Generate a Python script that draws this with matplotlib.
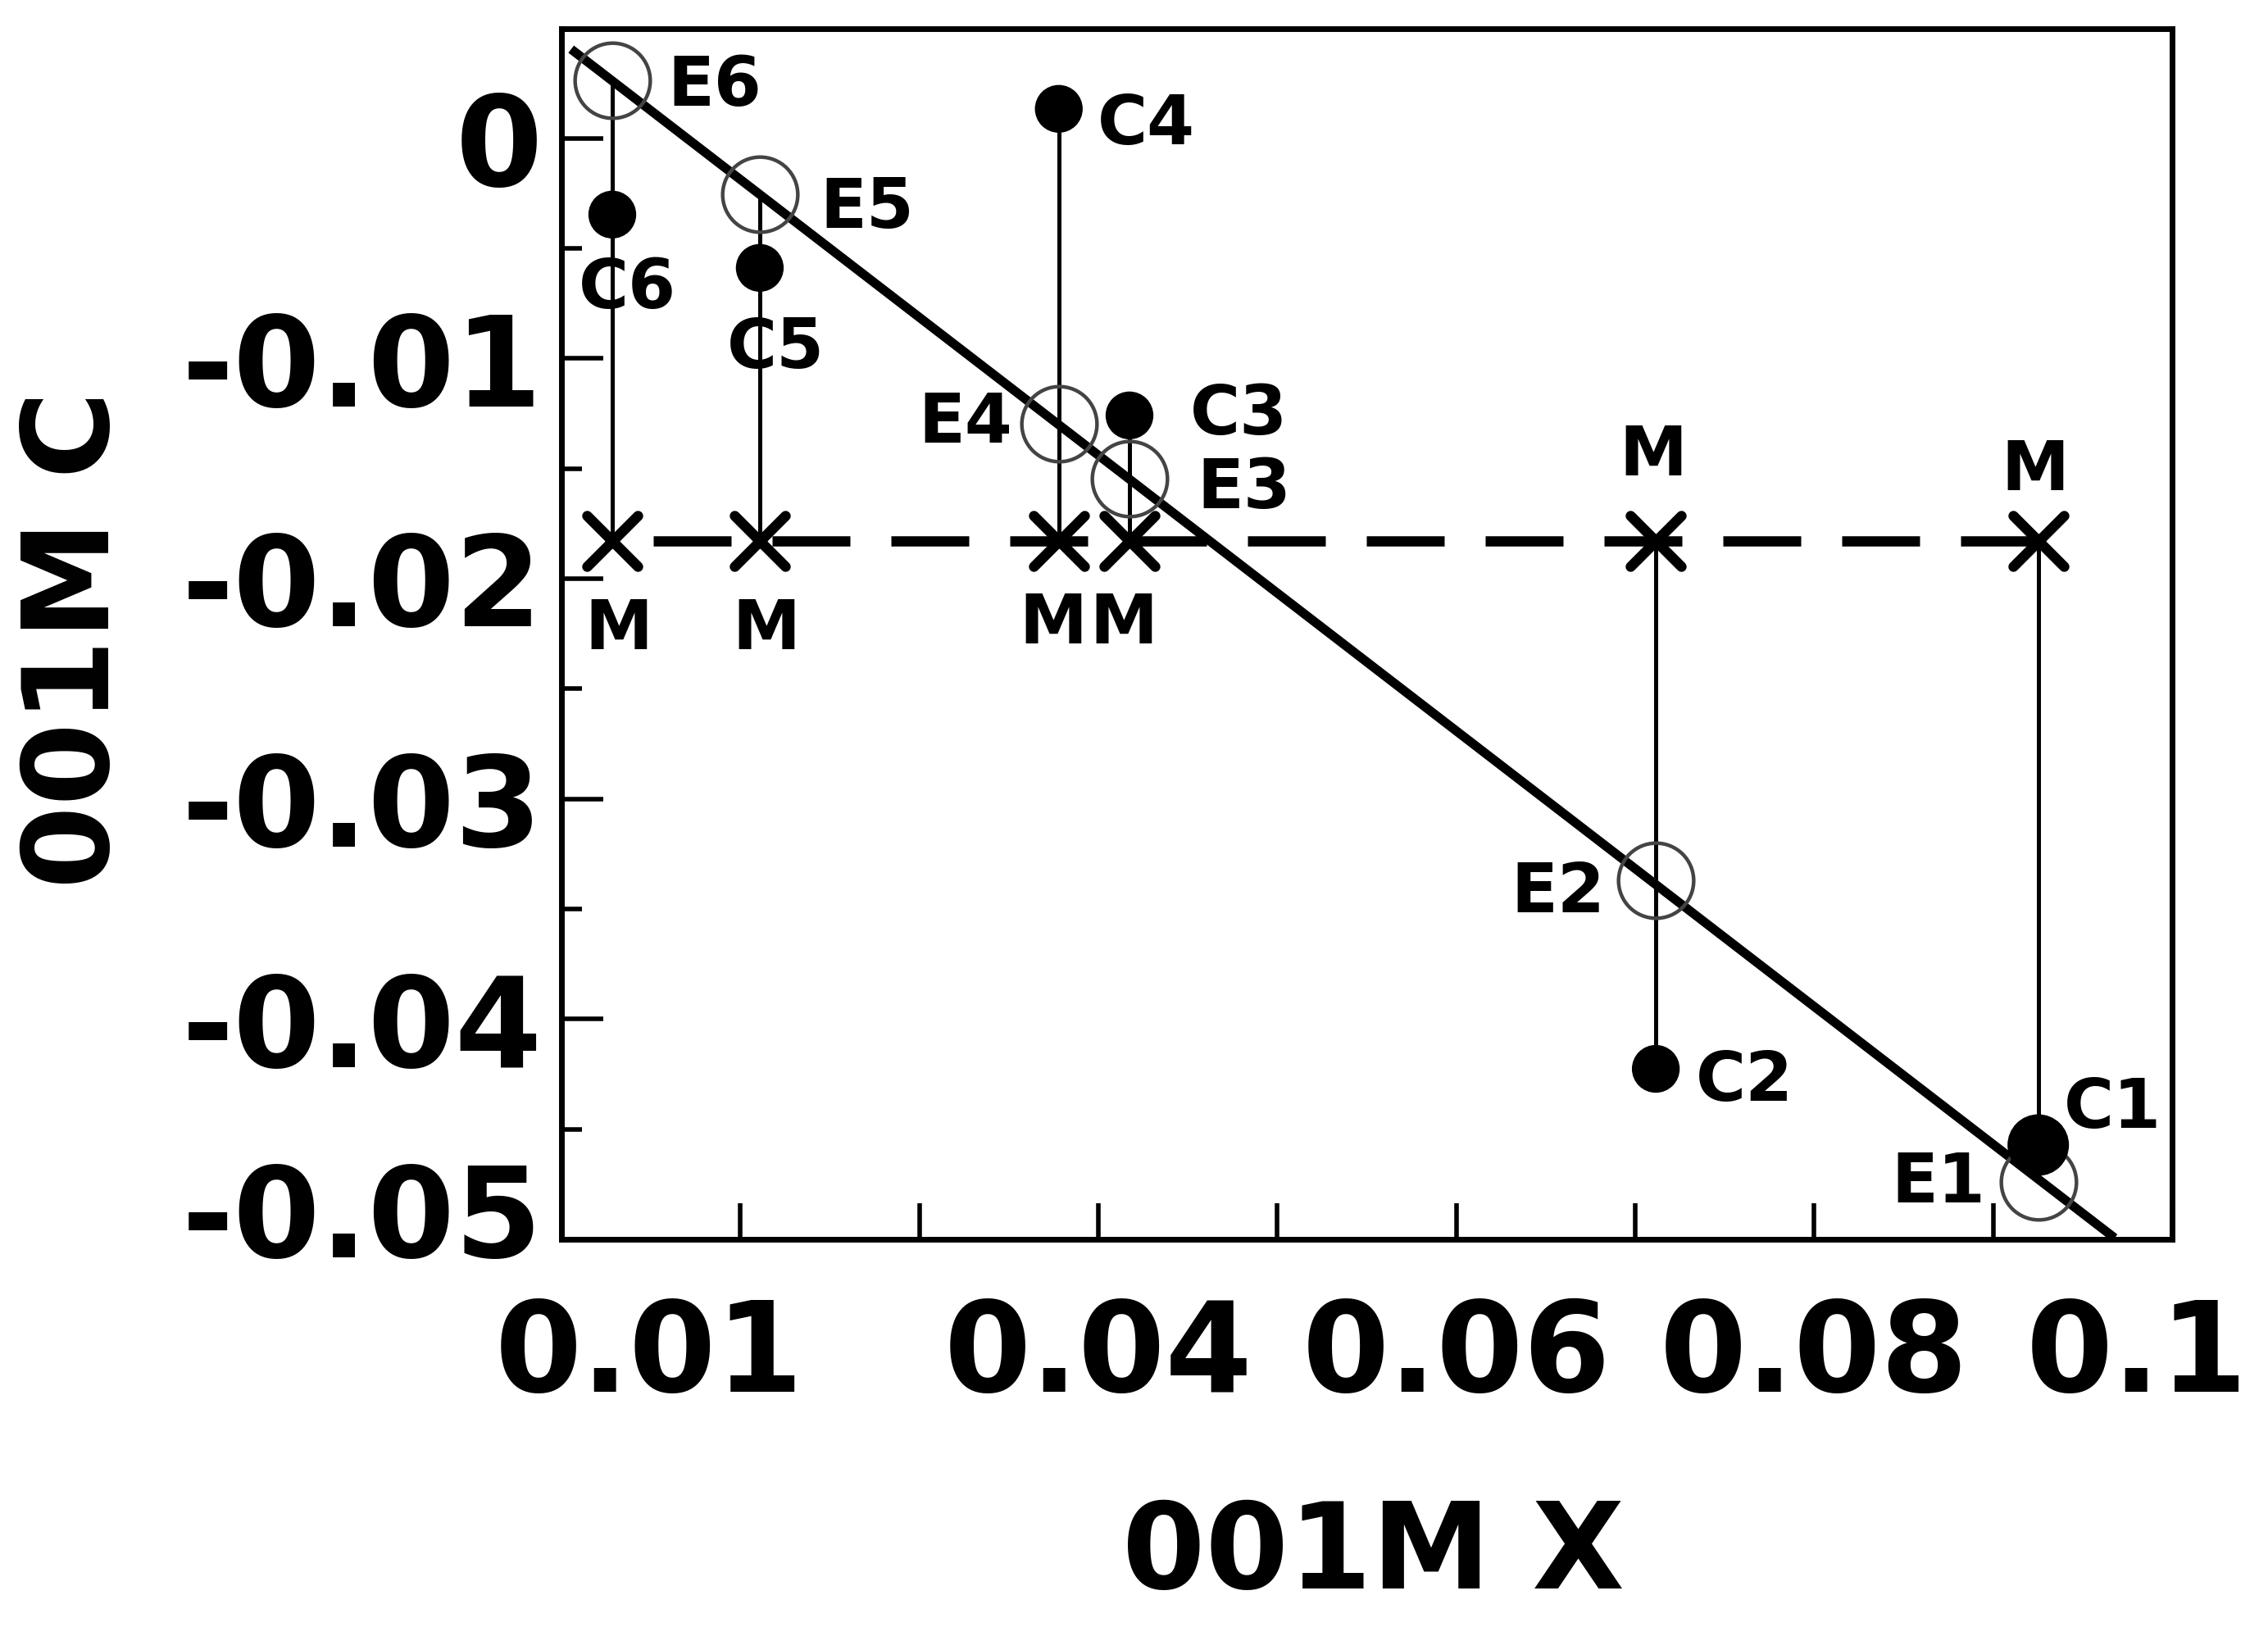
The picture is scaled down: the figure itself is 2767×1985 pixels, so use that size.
import numpy as np
import matplotlib
matplotlib.use('Agg')
import matplotlib.pyplot as plt
import matplotlib.transforms as mtransforms
from matplotlib.markers import MarkerStyle

plt.rcParams['font.family'] = ['DejaVu Sans']
plt.rcParams['font.weight'] = 'bold'

# data (points 1..6)
pt_x = [0.09252, 0.07115, 0.04174, 0.03779, 0.02108, 0.01284]
e_y = [-0.04740, -0.03371, -0.01547, -0.01296, -0.00254, 0.00262]
c_y = [-0.04572, -0.04226, -0.01259, 0.00133, -0.00589, -0.00347]
m_y = [-0.0183, -0.0183, -0.0183, -0.0183, -0.0183, -0.0183]
e_labels = ['E1', 'E2', 'E3', 'E4', 'E5', 'E6']
c_labels = ['C1', 'C2', 'C3', 'C4', 'C5', 'C6']
m_labels = ['M', 'M', 'M', 'M', 'M', 'M']

fit_x = [0.01054, 0.09679]
fit_y = [0.00404, -0.04994]

x_ticks = [0.01, 0.02, 0.03, 0.04, 0.05, 0.06, 0.07, 0.08, 0.09, 0.1]
x_ticklabels = ['0.01', '', '', '0.04', '', '0.06', '', '0.08', '', '0.1']
y_ticks = [0, -0.01, -0.02, -0.03, -0.04, -0.05]
y_ticklabels = ['0', '-0.01', '-0.02', '-0.03', '-0.04', '-0.05']
y_minor = [-0.005, -0.015, -0.025, -0.035, -0.045]

# label offsets in points (style)
e_off = [(-88, 4), (-86, -6), (101, -4), (-82, 5), (94, -8), (90, 0)]
c_off = [(65, 37), (78, -6), (96, 5), (77, -9), (14, -66), (13, -60)]
m_off = [(-3, 67), (-2, 80), (-5, -68), (-5, -68), (6, -73), (6, -73)]
c_size = [54, 42, 42, 42, 42, 42]

W, H = 2767, 1985
fig = plt.figure(figsize=(W / 100, H / 100), dpi=100)
ax = fig.add_axes([685 / W, 1 - 1512 / H, (2650 - 685) / W, (1512 - 35) / H])

# vertical connectors
lo = [min(a, b, c) for a, b, c in zip(e_y, c_y, m_y)]
hi = [max(a, b, c) for a, b, c in zip(e_y, c_y, m_y)]
ax.vlines(pt_x, lo, hi, color='k', lw=3.6, zorder=2)

# dashed M line
ax.plot(pt_x, m_y, color='k', lw=9, ls=(0, (7.6, 4.0)),
        dash_capstyle='butt', zorder=3)
ax.plot(pt_x, m_y, ls='none', marker=MarkerStyle('x', capstyle='round'),
        ms=44, mew=9, color='k', zorder=5)

# fit line
ax.plot(fit_x, fit_y, color='k', lw=8, solid_capstyle='butt', zorder=4)

# E and C markers
ax.plot(pt_x, e_y, ls='none', marker='o', ms=66, mfc='none',
        mec='#444444', mew=3.2, zorder=6)
ax.scatter(pt_x, c_y, s=[s ** 2 for s in c_size], color='k',
           linewidths=0, zorder=7)

fs = 60
for xs, ys, labs, offs in [(pt_x, e_y, e_labels, e_off),
                           (pt_x, c_y, c_labels, c_off),
                           (pt_x, m_y, m_labels, m_off)]:
    for x, y, lab, (dx, dy) in zip(xs, ys, labs, offs):
        ax.annotate(lab, (x, y), xytext=(dx, dy - 0.365 * fs),
                    textcoords='offset points', ha='center', va='baseline',
                    fontsize=fs, fontweight='bold', zorder=8)

ax.set_xlim(0.01, 0.1)
ax.set_ylim(-0.05, 0.00497)
ax.set_xticks(x_ticks, x_ticklabels)
ax.set_yticks(y_ticks, y_ticklabels)
ax.set_yticks(y_minor, minor=True)

for s in ax.spines.values():
    s.set_linewidth(5)

ax.tick_params(axis='x', which='both', direction='in', length=32, width=4,
               pad=50, labelsize=110, top=False)
ax.tick_params(axis='y', which='major', direction='in', length=37, width=4,
               pad=17, labelsize=110, right=False)
ax.tick_params(axis='y', which='minor', direction='in', length=18, width=4,
               right=False)

# end labels sit inward from the axis ends
xl = ax.get_xticklabels()
xl[0].set_transform(xl[0].get_transform() +
                    mtransforms.ScaledTranslation(1.07, 0, fig.dpi_scale_trans))
xl[-1].set_transform(xl[-1].get_transform() +
                     mtransforms.ScaledTranslation(-0.43, 0, fig.dpi_scale_trans))
yl = ax.get_yticklabels()
yl[-1].set_transform(yl[-1].get_transform() +
                     mtransforms.ScaledTranslation(0, 0.37, fig.dpi_scale_trans))

ax.set_xlabel('001M X', fontsize=105, fontweight='bold', va='center')
ax.xaxis.set_label_coords(0.504, -0.2613)
ax.set_ylabel('001M C', fontsize=105, fontweight='bold', va='center')
ax.yaxis.set_label_coords(-0.3013, 0.4956)

fig.savefig('out.png', dpi=100)
